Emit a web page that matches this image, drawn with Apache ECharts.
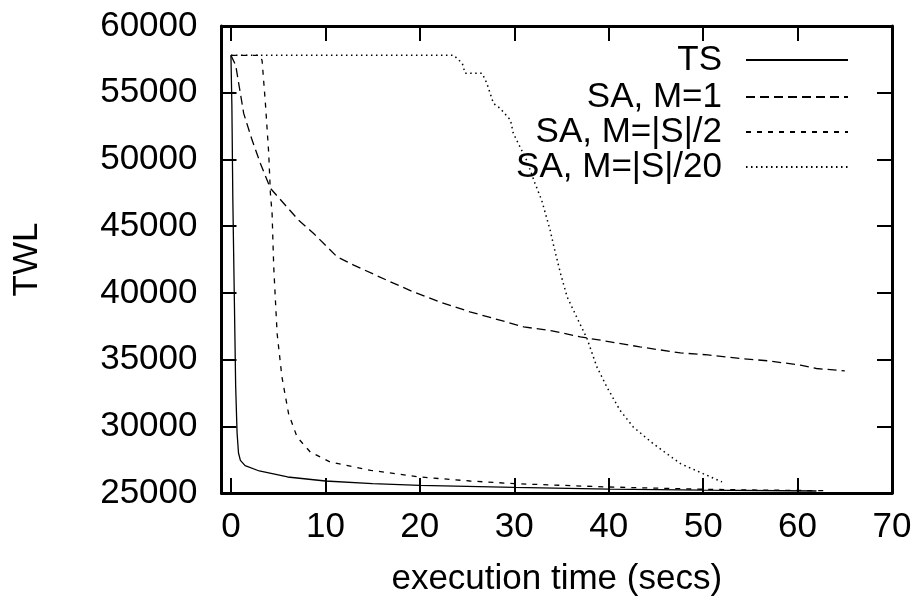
<!DOCTYPE html>
<html>
<head>
<meta charset="utf-8">
<script src="https://cdn.jsdelivr.net/npm/echarts@6/dist/echarts.min.js"></script>
<style>
html,body{margin:0;padding:0;background:#fff;}
#chart{width:918px;height:607px;}
</style>
</head>
<body>
<div id="chart"></div>
<script>
var xTicks = [0, 10, 20, 30, 40, 50, 60, 70];
var seriesNames = ['TS', 'SA, M=1', 'SA, M=|S|/2', 'SA, M=|S|/20'];

var tsData = [[0,57800],[0.1,54000],[0.2,47000],[0.35,40000],[0.5,33000],[0.65,29500],[0.8,28000],[1.0,27450],[1.5,27050],[3,26650],[6,26200],[10,25900],[15,25700],[20,25570],[30,25420],[40,25290],[50,25210],[62,25150]];

var saM1Data = [[0,57800],[0.5,57070],[1.35,53450],[2.24,51450],[3.12,49700],[4.18,47830],[7.17,45450],[8.76,44450],[11.24,42700],[13,42080],[16.5,40950],[19.3,40075],[22.2,39300],[25.3,38575],[28,38050],[31,37450],[34,37150],[37,36700],[40,36350],[43.3,35950],[47.6,35500],[50.5,35350],[53.9,35080],[57,34900],[60.3,34580],[62,34330],[65,34150]];

var saHalfData = [[0,57800],[3.1,57800],[3.3,57400],[3.65,54200],[4.0,50450],[4.18,47450],[4.36,45900],[4.53,41950],[4.89,36950],[5.4,33700],[6.1,30950],[7,29200],[8.4,28075],[10.5,27325],[14.8,26700],[20,26200],[25.3,25900],[30,25700],[40,25450],[50,25280],[56,25220],[63,25170]];

var saTwentiethData = [[0,57800],[23.6,57800],[24.5,57200],[24.8,56450],[26.6,56450],[27.1,55700],[27.8,54200],[28.5,53830],[29.6,52950],[29.9,51950],[30.6,50950],[31.3,49950],[32.2,48200],[32.9,46950],[33.8,44700],[34.2,43450],[34.9,41450],[35.6,39700],[36.6,38200],[37.7,36580],[38.75,34450],[39.8,32950],[41.2,31200],[42.6,29950],[44.7,28700],[47.6,27200],[50,26450],[52,25830]];

var font = 'Liberation Sans, Arial, Helvetica, sans-serif';
var fs = 35;

function mkSeries(name, data, dash, w) {
  return {
    name: name, type: 'line', data: data, symbol: 'none', showSymbol: false,
    animation: false, xAxisIndex: 0, yAxisIndex: 0,
    itemStyle: { color: '#000' },
    lineStyle: { color: '#000', width: w, type: dash }
  };
}

var legendCenters = [60, 97, 132, 167];
var legends = seriesNames.map(function (n, i) {
  return {
    data: [n], orient: 'vertical', right: 69, top: legendCenters[i] - 18,
    padding: 0, align: 'right', itemWidth: 102, itemHeight: 14,
    selectedMode: false,
    itemStyle: { opacity: 0 },
    textStyle: { fontSize: fs, fontFamily: font, color: '#000', lineHeight: 36, padding: [0, 19, 0, 0] }
  };
});

var tickStyle = { show: true, inside: true, length: 15, lineStyle: { color: '#000', width: 2 } };

var option = {
  backgroundColor: '#fff',
  animation: false,
  grid: { left: 221.5, right: 26, top: 26, bottom: 114, show: false },
  legend: legends,
  xAxis: [{
    type: 'value', min: -1, max: 70, position: 'bottom',
    name: 'execution time (secs)', nameLocation: 'middle', nameGap: 69,
    nameTextStyle: { fontSize: fs, fontFamily: font, color: '#000' },
    axisLine: { show: true, onZero: false, lineStyle: { color: '#000', width: 3 } },
    axisTick: Object.assign({ customValues: xTicks }, tickStyle),
    axisLabel: { customValues: xTicks, fontSize: fs, fontFamily: font, color: '#000', margin: 17 },
    splitLine: { show: false }
  }, {
    type: 'value', min: -1, max: 70, position: 'top',
    axisLine: { show: true, onZero: false, lineStyle: { color: '#000', width: 3 } },
    axisTick: Object.assign({ customValues: xTicks }, tickStyle),
    axisLabel: { show: false },
    splitLine: { show: false }
  }],
  yAxis: [{
    type: 'value', min: 25000, max: 60000, interval: 5000, position: 'left',
    name: 'TWL', nameLocation: 'middle', nameGap: 176.5, nameRotate: 90,
    nameTextStyle: { fontSize: fs, fontFamily: font, color: '#000' },
    axisLine: { show: true, onZero: false, lineStyle: { color: '#000', width: 3 } },
    axisTick: tickStyle,
    axisLabel: { fontSize: fs, fontFamily: font, color: '#000', margin: 24, formatter: function (v) { return String(v); } },
    splitLine: { show: false }
  }, {
    type: 'value', min: 25000, max: 60000, interval: 5000, position: 'right',
    axisLine: { show: true, onZero: false, lineStyle: { color: '#000', width: 3 } },
    axisTick: tickStyle,
    axisLabel: { show: false },
    splitLine: { show: false }
  }],
  series: [
    mkSeries(seriesNames[0], tsData, 'solid', 1.3),
    mkSeries(seriesNames[1], saM1Data, [9, 5], 1.3),
    mkSeries(seriesNames[2], saHalfData, [5, 6], 1.3),
    mkSeries(seriesNames[3], saTwentiethData, [1.5, 3.5], 1.5)
  ]
};

var chart = echarts.init(document.getElementById('chart'), null, { renderer: 'canvas' });
chart.setOption(option);
</script>
</body>
</html>
